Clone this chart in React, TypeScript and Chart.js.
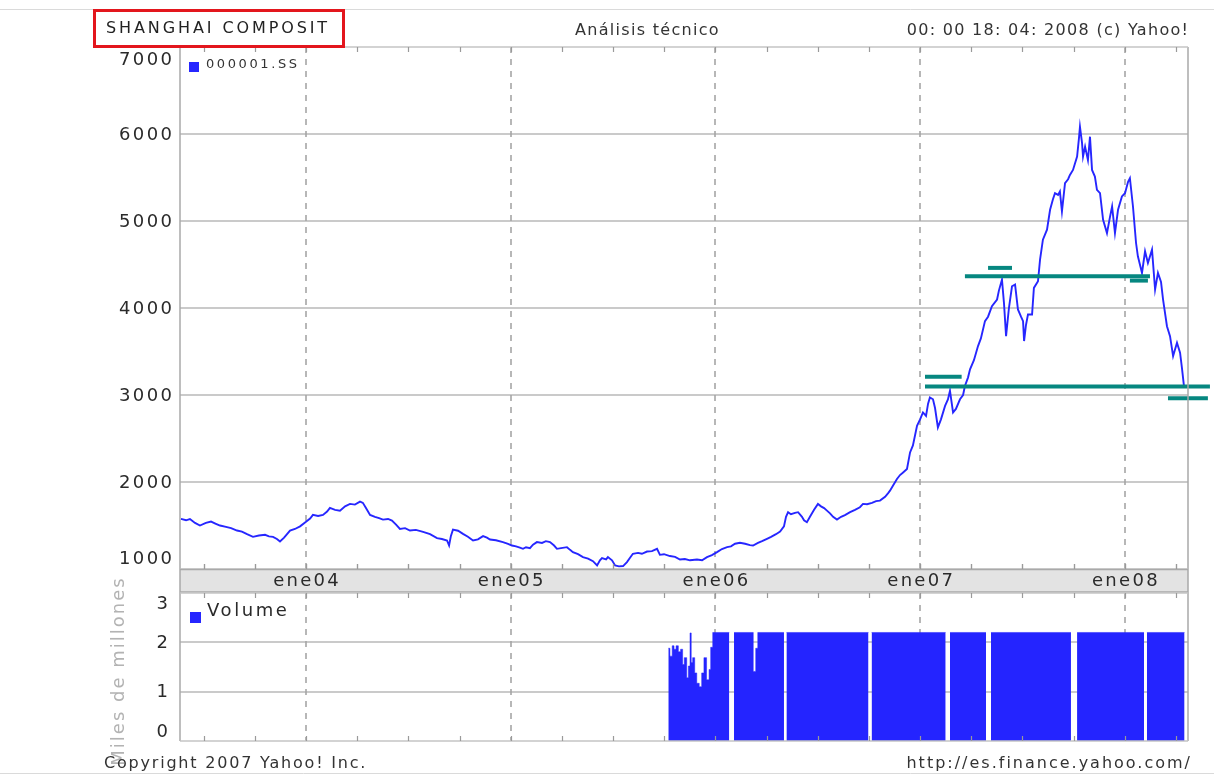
import React, { useEffect, useRef } from 'react';
import { Chart, registerables } from 'chart.js';

Chart.register(...registerables);

const FONT = '"DejaVu Sans", Verdana, sans-serif';

// ---- data (x in decimal years) ----
const PRICE_DATES = [
  2003.389, 2003.414, 2003.433, 2003.458, 2003.482, 2003.511, 2003.536, 2003.560, 2003.580, 2003.609,
  2003.634, 2003.663, 2003.687, 2003.712, 2003.741, 2003.770, 2003.800, 2003.819, 2003.839, 2003.858,
  2003.873, 2003.893, 2003.922, 2003.946, 2003.971, 2004.000, 2004.020, 2004.034, 2004.059, 2004.083,
  2004.103, 2004.117, 2004.142, 2004.166, 2004.191, 2004.215, 2004.239, 2004.264, 2004.278, 2004.293,
  2004.313, 2004.337, 2004.357, 2004.376, 2004.401, 2004.420, 2004.440, 2004.459, 2004.484, 2004.508,
  2004.537, 2004.572, 2004.606, 2004.640, 2004.664, 2004.689, 2004.699, 2004.708, 2004.718, 2004.743,
  2004.767, 2004.791, 2004.816, 2004.840, 2004.865, 2004.884, 2004.899, 2004.928, 2004.962, 2004.987,
  2005.006, 2005.026, 2005.045, 2005.060, 2005.075, 2005.094, 2005.109, 2005.128, 2005.153, 2005.172,
  2005.192, 2005.212, 2005.226, 2005.246, 2005.275, 2005.290, 2005.304, 2005.329, 2005.353, 2005.378,
  2005.402, 2005.422, 2005.436, 2005.446, 2005.466, 2005.475, 2005.495, 2005.510, 2005.529, 2005.549,
  2005.568, 2005.583, 2005.597, 2005.622, 2005.641, 2005.666, 2005.690, 2005.715, 2005.729, 2005.749,
  2005.778, 2005.803, 2005.827, 2005.851, 2005.876, 2005.910, 2005.935, 2005.959, 2005.983, 2006.008,
  2006.032, 2006.057, 2006.076, 2006.096, 2006.120, 2006.145, 2006.169, 2006.184, 2006.208, 2006.228,
  2006.252, 2006.272, 2006.296, 2006.316, 2006.335, 2006.345, 2006.355, 2006.369, 2006.389, 2006.404,
  2006.423, 2006.433, 2006.447, 2006.462, 2006.482, 2006.501, 2006.516, 2006.531, 2006.545, 2006.560,
  2006.575, 2006.594, 2006.614, 2006.633, 2006.658, 2006.682, 2006.706, 2006.721, 2006.741, 2006.765,
  2006.785, 2006.804, 2006.829, 2006.843, 2006.853, 2006.868, 2006.887, 2006.902, 2006.917, 2006.936,
  2006.951, 2006.965, 2006.985, 2007.000, 2007.014, 2007.029, 2007.039, 2007.048, 2007.063, 2007.073,
  2007.087, 2007.102, 2007.122, 2007.136, 2007.146, 2007.161, 2007.175, 2007.195, 2007.210, 2007.219,
  2007.234, 2007.244, 2007.263, 2007.283, 2007.297, 2007.317, 2007.332, 2007.351, 2007.376, 2007.385,
  2007.400, 2007.410, 2007.420, 2007.434, 2007.449, 2007.464, 2007.478, 2007.493, 2007.503, 2007.508,
  2007.517, 2007.527, 2007.547, 2007.556, 2007.576, 2007.586, 2007.600, 2007.620, 2007.635, 2007.649,
  2007.659, 2007.674, 2007.683, 2007.693, 2007.708, 2007.723, 2007.732, 2007.747, 2007.767, 2007.776,
  2007.781, 2007.791, 2007.796, 2007.806, 2007.820, 2007.830, 2007.840, 2007.854, 2007.864, 2007.879,
  2007.894, 2007.913, 2007.928, 2007.938, 2007.952, 2007.967, 2007.986, 2008.001, 2008.016, 2008.025,
  2008.040, 2008.055, 2008.064, 2008.084, 2008.099, 2008.113, 2008.133, 2008.148, 2008.162, 2008.177,
  2008.187, 2008.206, 2008.221, 2008.236, 2008.255, 2008.270, 2008.279, 2008.289,
];
const PRICE_VALUES = [
  1576, 1560, 1575, 1530, 1500, 1530, 1545, 1520, 1500, 1485,
  1470, 1442, 1430, 1400, 1370, 1385, 1393, 1375, 1370, 1345,
  1316, 1360, 1442, 1460, 1490, 1542, 1580, 1622, 1610, 1622,
  1660, 1702, 1680, 1671, 1720, 1748, 1740, 1774, 1760, 1700,
  1622, 1600, 1585, 1568, 1575, 1557, 1510, 1461, 1470, 1442,
  1450, 1427, 1400, 1355, 1345, 1328, 1270, 1380, 1453, 1440,
  1404, 1370, 1328, 1340, 1378, 1360, 1339, 1330, 1309, 1290,
  1270, 1260, 1245, 1232, 1250, 1240, 1280, 1309, 1300, 1320,
  1309, 1270, 1232, 1240, 1251, 1220, 1194, 1170, 1137, 1120,
  1090, 1040, 1100, 1125, 1110, 1137, 1100, 1040, 1030, 1034,
  1080, 1130, 1175, 1185, 1175, 1201, 1205, 1232, 1163, 1170,
  1149, 1140, 1109, 1115, 1100, 1109, 1100, 1137, 1160, 1194,
  1230, 1251, 1260, 1290, 1301, 1290, 1275, 1270, 1300, 1320,
  1347, 1370, 1400, 1430, 1490, 1600, 1653, 1630, 1645, 1653,
  1600, 1560, 1538, 1600, 1680, 1748, 1720, 1700, 1671, 1640,
  1600, 1568, 1600, 1620, 1653, 1680, 1710, 1748, 1745, 1760,
  1780, 1786, 1830, 1870, 1900, 1960, 2034, 2080, 2110, 2149,
  2340, 2420, 2645, 2720, 2799, 2760, 2900, 2971, 2951, 2850,
  2627, 2720, 2875, 2950, 3048, 2799, 2840, 2951, 3000, 3104,
  3200, 3295, 3400, 3562, 3650, 3849, 3900, 4021, 4097, 4200,
  4327, 4050, 3677, 4000, 4250, 4269, 3983, 3900, 3849, 3620,
  3800, 3925, 3925, 4231, 4307, 4556, 4785, 4900, 5129, 5250,
  5320, 5300, 5339, 5110, 5435, 5480, 5530, 5587, 5740, 5950,
  6083, 5900, 5740, 5855, 5700, 5969, 5587, 5511, 5358, 5320,
  5014, 4861, 5050, 5167, 4861, 5129, 5282, 5320, 5450, 5492,
  5167, 4747, 4594, 4403, 4652, 4518, 4671, 4212, 4403, 4300,
  4097, 3791, 3677, 3448, 3601, 3486, 3314, 3104,
];

// volume in thousands of millions; null = market closed (holiday gap)
const VOLUME_DATES = [
  2005.770, 2005.778, 2005.789, 2005.798, 2005.808, 2005.819, 2005.830, 2005.840, 2005.848, 2005.860,
  2005.868, 2005.876, 2005.882, 2005.889, 2005.899, 2005.909, 2005.921, 2005.933, 2005.944, 2005.957,
  2005.969, 2005.977, 2005.987, 2006.068, 2006.080, 2006.091, 2006.185, 2006.197, 2006.207, 2006.335,
  2006.341, 2006.347, 2006.748, 2006.755, 2006.763, 2007.125, 2007.135, 2007.146, 2007.322, 2007.334,
  2007.346, 2007.737, 2007.752, 2007.767, 2008.094, 2008.101, 2008.108, 2008.292,
];
const VOLUME_VALUES = [
  1.88, 1.72, 1.93, 1.86, 1.93, 1.81, 1.86, 1.55, 1.69, 1.28,
  1.52, 2.19, 1.59, 1.69, 1.38, 1.17, 1.10, 1.38, 1.69, 1.24,
  1.45, 1.90, 2.2, 2.2, null, 2.2, 1.41, 1.88, 2.2, 2.2,
  null, 2.2, 2.2, null, 2.2, 2.2, null, 2.2, 2.2, null,
  2.2, 2.2, null, 2.2, 2.2, null, 2.2, 2.2,
];

// support / resistance levels
const LEVEL_STARTS = [2007.024, 2007.024, 2007.332, 2007.219, 2008.025, 2008.211];
const LEVEL_ENDS = [2007.203, 2008.416, 2007.449, 2008.123, 2008.113, 2008.406];
const LEVEL_VALUES = [3211, 3097, 4461, 4364, 4315, 2963];

const X_MIN = 2003.3845;
const X_MAX = 2008.3088;
const PRICE_TICKS = [1000, 2000, 3000, 4000, 5000, 6000, 7000];
const VOLUME_TICKS = [0, 1, 2, 3];
const YEAR_TICKS = [2004, 2005, 2006, 2007, 2008];
const YEAR_LABELS = ['ene04', 'ene05', 'ene06', 'ene07', 'ene08'];
const QUARTER_TICKS = [
  2003.5, 2003.75, 2004, 2004.25, 2004.5, 2004.75, 2005, 2005.25, 2005.5, 2005.75,
  2006, 2006.25, 2006.5, 2006.75, 2007, 2007.25, 2007.5, 2007.75, 2008, 2008.25,
];

const TITLE = 'SHANGHAI COMPOSIT';
const SUBTITLE = 'Análisis técnico';
const STAMP = '00: 00 18: 04: 2008 (c) Yahoo!';
const SERIES_NAME = '000001.SS';
const VOLUME_NAME = 'Volume';
const VOLUME_UNIT = 'Miles de millones';
const COPYRIGHT = 'Copyright 2007 Yahoo! Inc.';
const URL_TEXT = 'http://es.finance.yahoo.com/';

const BLUE = '#2626ff';
const GRID = '#b9b9b9';
const FRAME = '#a9a9a9';
const TEXT = '#2a2a2a';

function drawText(
  ctx: CanvasRenderingContext2D, s: string, x: number, y: number,
  size: number, color: string, align: CanvasTextAlign, spacing: number,
) {
  ctx.save();
  ctx.font = `${size}px ${FONT}`;
  (ctx as any).letterSpacing = `${spacing}px`;
  ctx.fillStyle = color;
  ctx.textAlign = align;
  ctx.textBaseline = 'middle';
  const dx = align === 'right' ? spacing : align === 'center' ? spacing / 2 : 0;
  ctx.fillText(s, x + dx, y);
  ctx.restore();
}

function seg(ctx: CanvasRenderingContext2D, x1: number, y1: number, x2: number, y2: number) {
  ctx.beginPath();
  ctx.moveTo(x1, y1);
  ctx.lineTo(x2, y2);
  ctx.stroke();
}

function drawPanelGrid(chart: any, ticks: number[]) {
  const { ctx, chartArea: a, scales } = chart;
  const x = scales.x;
  const y = scales.y;
  ctx.save();
  ctx.strokeStyle = GRID;
  ctx.lineWidth = 1.5;
  ticks.slice(1, -1).forEach((v) => {
    const py = Math.round(y.getPixelForValue(v));
    seg(ctx, a.left, py, a.right, py);
  });
  ctx.setLineDash([6, 6]);
  ctx.strokeStyle = '#a6a6a6';
  ctx.lineWidth = 1.6;
  YEAR_TICKS.forEach((t) => {
    const px = Math.round(x.getPixelForValue(t));
    seg(ctx, px, a.top, px, a.bottom);
  });
  ctx.restore();
}

function drawFrame(chart: any) {
  const { ctx, chartArea: a, scales } = chart;
  const x = scales.x;
  ctx.save();
  ctx.strokeStyle = FRAME;
  ctx.lineWidth = 1.5;
  seg(ctx, a.left, a.top, a.left, a.bottom);
  seg(ctx, a.right, a.top, a.right, a.bottom);
  ctx.strokeStyle = '#c4c4c4';
  seg(ctx, a.left, a.top, a.right, a.top);
  seg(ctx, a.left, a.bottom, a.right, a.bottom);
  ctx.strokeStyle = '#9a9a9a';
  ctx.lineWidth = 1.2;
  QUARTER_TICKS.forEach((t) => {
    const px = Math.round(x.getPixelForValue(t)) + 0.5;
    seg(ctx, px, a.top, px, a.top + 5);
    seg(ctx, px, a.bottom - 5, px, a.bottom);
  });
  ctx.restore();
}

function drawYLabels(chart: any, ticks: number[], topShift: number, bottomShift: number, right: number) {
  const { ctx, scales } = chart;
  const y = scales.y;
  ticks.forEach((v, i) => {
    let py = y.getPixelForValue(v) + 1;
    if (i === ticks.length - 1) py += topShift;
    if (i === 0) py -= bottomShift;
    drawText(ctx, String(v), right, py, 18, TEXT, 'right', 2.4);
  });
}

const pricePlugin = {
  id: 'pricePanel',
  beforeDatasetsDraw(chart: any) {
    drawPanelGrid(chart, PRICE_TICKS);
  },
  afterDatasetsDraw(chart: any) {
    const { ctx, scales } = chart;
    const x = scales.x;
    const y = scales.y;
    ctx.save();
    ctx.strokeStyle = '#068780';
    ctx.lineWidth = 4;
    ctx.lineCap = 'butt';
    LEVEL_VALUES.forEach((v, i) => {
      const py = y.getPixelForValue(v);
      seg(ctx, x.getPixelForValue(LEVEL_STARTS[i]), py, x.getPixelForValue(LEVEL_ENDS[i]), py);
    });
    ctx.restore();
  },
  afterDraw(chart: any) {
    const { ctx, chartArea: a, scales } = chart;
    const x = scales.x;
    drawFrame(chart);
    // date band
    ctx.save();
    ctx.fillStyle = '#e3e3e3';
    ctx.fillRect(a.left, a.bottom, a.right - a.left, 23);
    ctx.strokeStyle = '#a9a9a9';
    ctx.lineWidth = 1.5;
    seg(ctx, a.left, a.bottom + 0.5, a.right, a.bottom + 0.5);
    seg(ctx, a.left, a.bottom + 23, a.right, a.bottom + 23);
    seg(ctx, a.left, a.bottom, a.left, a.bottom + 24);
    seg(ctx, a.right, a.bottom, a.right, a.bottom + 24);
    ctx.strokeStyle = '#9a9a9a';
    ctx.lineWidth = 1.2;
    QUARTER_TICKS.forEach((t) => {
      const px = Math.round(x.getPixelForValue(t)) + 0.5;
      seg(ctx, px, a.bottom - 5, px, a.bottom);
    });
    ctx.restore();
    YEAR_TICKS.forEach((t, i) => {
      drawText(ctx, YEAR_LABELS[i], x.getPixelForValue(t), a.bottom + 12, 18, TEXT, 'center', 2.3);
    });
    drawYLabels(chart, PRICE_TICKS, 12, 11, 172);
    // legend
    ctx.save();
    ctx.fillStyle = BLUE;
    ctx.fillRect(189, 62, 10, 10);
    ctx.restore();
    drawText(ctx, SERIES_NAME, 206, 65, 13, '#333', 'left', 2.6);
    // header
    ctx.save();
    ctx.strokeStyle = '#dadada';
    ctx.lineWidth = 1;
    seg(ctx, 0, 9.5, 1214, 9.5);
    seg(ctx, 0, 773.5, 1214, 773.5);
    ctx.strokeStyle = '#e3161d';
    ctx.lineWidth = 3;
    ctx.strokeRect(94.5, 10.5, 249, 36);
    ctx.restore();
    drawText(ctx, TITLE, 106, 29, 16, '#222', 'left', 2.9);
    drawText(ctx, SUBTITLE, 575, 31, 16, '#333', 'left', 1.3);
    drawText(ctx, STAMP, 1188, 31, 16, '#333', 'right', 1.3);
  },
};

const volumePlugin = {
  id: 'volumePanel',
  beforeDatasetsDraw(chart: any) {
    drawPanelGrid(chart, VOLUME_TICKS);
  },
  afterDraw(chart: any) {
    const { ctx } = chart;
    drawFrame(chart);
    drawYLabels(chart, VOLUME_TICKS, 10, 10, 168);
    ctx.save();
    ctx.fillStyle = BLUE;
    ctx.fillRect(190, 612, 11, 11);
    ctx.restore();
    drawText(ctx, VOLUME_NAME, 207, 611, 18, TEXT, 'left', 2.6);
    ctx.save();
    ctx.translate(119, 672);
    ctx.rotate(-Math.PI / 2);
    drawText(ctx, VOLUME_UNIT, 0, 0, 18, '#b3b3b3', 'center', 2);
    ctx.restore();
    drawText(ctx, COPYRIGHT, 104, 764, 16, '#333', 'left', 1.8);
    drawText(ctx, URL_TEXT, 1190, 764, 16, '#333', 'right', 2);
  },
};

export default function App() {
  const priceRef = useRef<HTMLCanvasElement>(null);
  const volumeRef = useRef<HTMLCanvasElement>(null);

  useEffect(() => {
    const pricePoints = PRICE_DATES.map((t, i) => ({ x: t, y: PRICE_VALUES[i] }));
    const volumePoints = VOLUME_DATES.map((t, i) => ({ x: t, y: VOLUME_VALUES[i] }));

    const priceChart = new Chart(priceRef.current as HTMLCanvasElement, {
      type: 'line',
      data: {
        datasets: [
          {
            label: SERIES_NAME,
            data: pricePoints as any,
            borderColor: BLUE,
            borderWidth: 1.9,
            pointRadius: 0,
            tension: 0,
            fill: false,
          },
        ],
      },
      options: {
        responsive: false,
        animation: false,
        events: [],
        layout: { padding: { left: 180, right: 26, top: 47, bottom: 206 } },
        plugins: { legend: { display: false }, tooltip: { enabled: false }, title: { display: false } },
        scales: {
          x: { type: 'linear', min: X_MIN, max: X_MAX, display: false },
          y: { type: 'linear', min: PRICE_TICKS[0], max: PRICE_TICKS[PRICE_TICKS.length - 1], display: false },
        },
      },
      plugins: [pricePlugin],
    });

    const volumeChart = new Chart(volumeRef.current as HTMLCanvasElement, {
      type: 'line',
      data: {
        datasets: [
          {
            label: VOLUME_NAME,
            data: volumePoints as any,
            borderColor: '#2424ff',
            backgroundColor: '#2424ff',
            borderWidth: 0.5,
            pointRadius: 0,
            stepped: true,
            spanGaps: false,
            fill: 'origin',
          },
        ],
      },
      options: {
        responsive: false,
        animation: false,
        events: [],
        layout: { padding: { left: 180, right: 26, top: 593, bottom: 34 } },
        plugins: { legend: { display: false }, tooltip: { enabled: false }, title: { display: false } },
        scales: {
          x: { type: 'linear', min: X_MIN, max: X_MAX, display: false },
          y: { type: 'linear', min: VOLUME_TICKS[0], max: VOLUME_TICKS[VOLUME_TICKS.length - 1], display: false },
        },
      },
      plugins: [volumePlugin],
    });

    return () => {
      priceChart.destroy();
      volumeChart.destroy();
    };
  }, []);

  return (
    <div style={{ position: 'fixed', left: 0, top: 0, width: 1214, height: 775, background: '#fff', overflow: 'hidden' }}>
      <canvas ref={priceRef} width={1214} height={775} style={{ position: 'absolute', left: 0, top: 0 }} />
      <canvas ref={volumeRef} width={1214} height={775} style={{ position: 'absolute', left: 0, top: 0 }} />
    </div>
  );
}
